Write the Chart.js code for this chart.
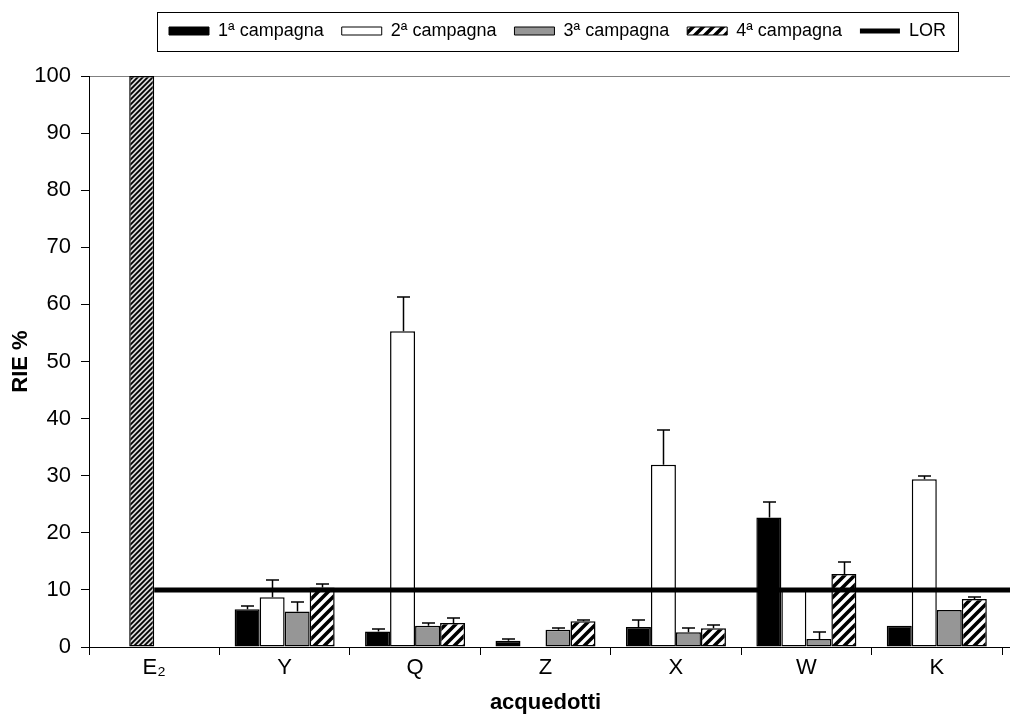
<!DOCTYPE html>
<html>
<head>
<meta charset="utf-8">
<script src="https://cdn.jsdelivr.net/npm/chart.js@4.4.1/dist/chart.umd.min.js"></script>
<style>
  html, body { margin: 0; padding: 0; background: #fff; overflow: hidden; }
  canvas { display: block; }
</style>
</head>
<body>
<canvas id="chart" width="1010" height="716"></canvas>
<script>
// Categories (aqueducts) and campaign series, RIE %
const categories = ['E₂', 'Y', 'Q', 'Z', 'X', 'W', 'K'];
const seriesNames = ['1ª campagna', '2ª campagna', '3ª campagna', '4ª campagna'];
const lorName = 'LOR';

const camp1    = [null, 6.6, 2.7, 1.1, 3.5, 22.7, 3.7];
const camp1Err = [null, 0.6, 0.5, 0.3, 1.2, 2.7, null];
const camp2    = [100, 8.7, 55.3, 0, 31.9, 10.1, 29.4];
const camp2Err = [null, 3.0, 6.0, null, 6.1, null, 0.5];
const camp3    = [null, 6.2, 3.7, 3.0, 2.6, 1.4, 6.5];
const camp3Err = [null, 1.6, 0.5, 0.3, 0.7, 1.2, null];
const camp4    = [null, 10.4, 4.2, 4.5, 3.3, 12.8, 8.4];
const camp4Err = [null, 0.7, 0.8, 0.3, 0.5, 2.0, 0.3];

const lorValue = 10;
const yMin = 0, yMax = 100, yStep = 10;

const values = [camp1, camp2, camp3, camp4];
const errors = [camp1Err, camp2Err, camp3Err, camp4Err];

// Diagonal stripe fills
function stripes(size, width, bg, fg) {
  const c = document.createElement('canvas');
  c.width = c.height = size;
  const g = c.getContext('2d');
  g.fillStyle = bg;
  g.fillRect(0, 0, size, size);
  g.strokeStyle = fg;
  g.lineWidth = width;
  g.beginPath();
  g.moveTo(-size, size); g.lineTo(size, -size);
  g.moveTo(0, size); g.lineTo(size, 0);
  g.moveTo(0, 2 * size); g.lineTo(2 * size, 0);
  g.stroke();
  return g.createPattern(c, 'repeat');
}
const wideHatch = stripes(10, 3.6, '#ffffff', '#000000');
const fineHatch = stripes(5, 1.8, '#d8d8d8', '#000000');

const FONT = "'Liberation Sans', Arial, sans-serif";

const fills = [
  categories.map(() => '#000000'),
  categories.map((c, i) => i === 0 ? fineHatch : '#ffffff'),
  categories.map(() => '#969696'),
  categories.map(() => wideHatch)
];

// Bars sit on a numeric index axis: category i is centred on x = i
const barSets = values.map((v, i) => ({
  type: 'bar',
  label: seriesNames[i],
  data: v.map((y, k) => ({ x: k, y })),
  backgroundColor: fills[i],
  borderColor: '#000000',
  borderWidth: 1.5,
  borderSkipped: false,
  categoryPercentage: 0.767,
  barPercentage: 1,
  order: 1
}));

// Threshold line from the first category to beyond the right edge
const lorSet = {
  type: 'line',
  label: lorName,
  data: [{ x: 0, y: lorValue }, { x: categories.length, y: lorValue }],
  borderColor: '#000000',
  borderWidth: 5,
  pointRadius: 0,
  fill: false,
  clip: false,
  order: 0
};

// Upper error whiskers on each bar
const errorBars = {
  id: 'errorBars',
  afterDatasetsDraw(chart) {
    const ctx = chart.ctx;
    const ys = chart.scales.y;
    ctx.save();
    ctx.strokeStyle = '#000000';
    ctx.lineWidth = 1.5;
    errors.forEach((errs, di) => {
      const meta = chart.getDatasetMeta(di);
      meta.data.forEach((bar, i) => {
        const v = values[di][i], e = errs[i];
        if (v == null || !e) return;
        const x = Math.round(bar.x) + 0.5;
        const y0 = ys.getPixelForValue(v);
        const y1 = Math.round(ys.getPixelForValue(v + e));
        ctx.beginPath();
        ctx.moveTo(x, y0);
        ctx.lineTo(x, y1);
        ctx.moveTo(x - 6.5, y1);
        ctx.lineTo(x + 6.5, y1);
        ctx.stroke();
      });
    });
    ctx.restore();
  }
};

// Legend placement and frame; plot frame lines run to the right edge
const frame = {
  id: 'frame',
  afterLayout(chart) {
    const lg = chart.legend;
    const h = lg.bottom - lg.top;
    const w = lg.right - lg.left;
    lg.top = 4; lg.bottom = 4 + h;
    lg.left = 151; lg.right = 151 + w;
  },
  afterDraw(chart) {
    const ctx = chart.ctx;
    const lg = chart.legend;
    const pad = lg.options.labels.padding;
    const boxes = lg.legendHitBoxes;
    let total = 0;
    boxes.forEach(b => total += b.width);
    total += pad * (boxes.length - 1);
    const x0 = lg.left + pad - 12;
    const cy = lg.top + pad + 9;
    ctx.save();
    ctx.strokeStyle = '#000000';
    ctx.lineWidth = 1;
    ctx.strokeRect(Math.round(x0) + 0.5, Math.round(cy - 19.5) + 0.5, Math.round(total + 24), 39);
    const ys = chart.scales.y;
    const a = chart.chartArea;
    ctx.beginPath();
    ctx.strokeStyle = '#808080';
    const yTop = Math.round(ys.getPixelForValue(yMax)) + 0.5;
    ctx.moveTo(a.right, yTop); ctx.lineTo(chart.width, yTop);
    ctx.stroke();
    ctx.beginPath();
    ctx.strokeStyle = '#000000';
    const yBot = Math.round(ys.getPixelForValue(yMin)) + 0.5;
    ctx.moveTo(a.right, yBot); ctx.lineTo(chart.width, yBot);
    ctx.stroke();
    ctx.restore();
  }
};

new Chart(document.getElementById('chart'), {
  type: 'bar',
  data: { datasets: [...barSets, lorSet] },
  options: {
    responsive: false,
    animation: false,
    devicePixelRatio: 1,
    layout: { padding: { left: 0, right: 8, top: 30, bottom: 0 } },
    plugins: {
      tooltip: { enabled: false },
      legend: {
        position: 'top',
        align: 'start',
        labels: {
          color: '#000000',
          font: { family: FONT, size: 18 },
          padding: 18,
          usePointStyle: true,
          pointStyleWidth: 40,
          boxHeight: 8,
          generateLabels() {
            const items = seriesNames.map((name, i) => ({
              text: name,
              fillStyle: i === 1 ? '#ffffff' : fills[i][1],
              strokeStyle: '#000000',
              lineWidth: 1,
              pointStyle: 'rect',
              datasetIndex: i
            }));
            items.push({
              text: lorName,
              fillStyle: '#000000',
              strokeStyle: '#000000',
              lineWidth: 5,
              pointStyle: 'line',
              datasetIndex: 4
            });
            return items;
          }
        }
      }
    },
    scales: {
      x: {
        type: 'linear',
        offset: false,
        min: -0.5,
        max: categories.length - 0.5,
        afterBuildTicks(s) { s.ticks = categories.map((c, i) => ({ value: i })); },
        grid: { offset: true, drawOnChartArea: false, color: '#000000', tickLength: 8 },
        border: { display: true, color: '#000000', width: 1 },
        ticks: {
          color: '#000000',
          font: { family: FONT, size: 22 },
          padding: 0,
          maxRotation: 0,
          autoSkip: false,
          callback: v => categories[v]
        },
        title: { display: true, text: 'acquedotti', color: '#000000', font: { family: FONT, size: 22, weight: 'bold' }, padding: 0 },
        afterFit(s) { s.height = 69; }
      },
      y: {
        type: 'linear',
        min: yMin,
        max: yMax,
        ticks: { stepSize: yStep, color: '#000000', font: { family: FONT, size: 22 }, padding: 10 },
        grid: {
          color: c => c.tick && c.tick.value === yMax ? '#808080' : 'rgba(0,0,0,0)',
          tickColor: '#000000',
          tickLength: 8,
          lineWidth: 1
        },
        border: { display: true, color: '#000000', width: 1 },
        title: { display: true, text: 'RIE %', color: '#000000', font: { family: FONT, size: 22, weight: 'bold' }, padding: { top: 8, bottom: 0 } },
        afterFit(s) { s.width = 89; }
      }
    }
  },
  plugins: [errorBars, frame]
});
</script>
</body>
</html>
